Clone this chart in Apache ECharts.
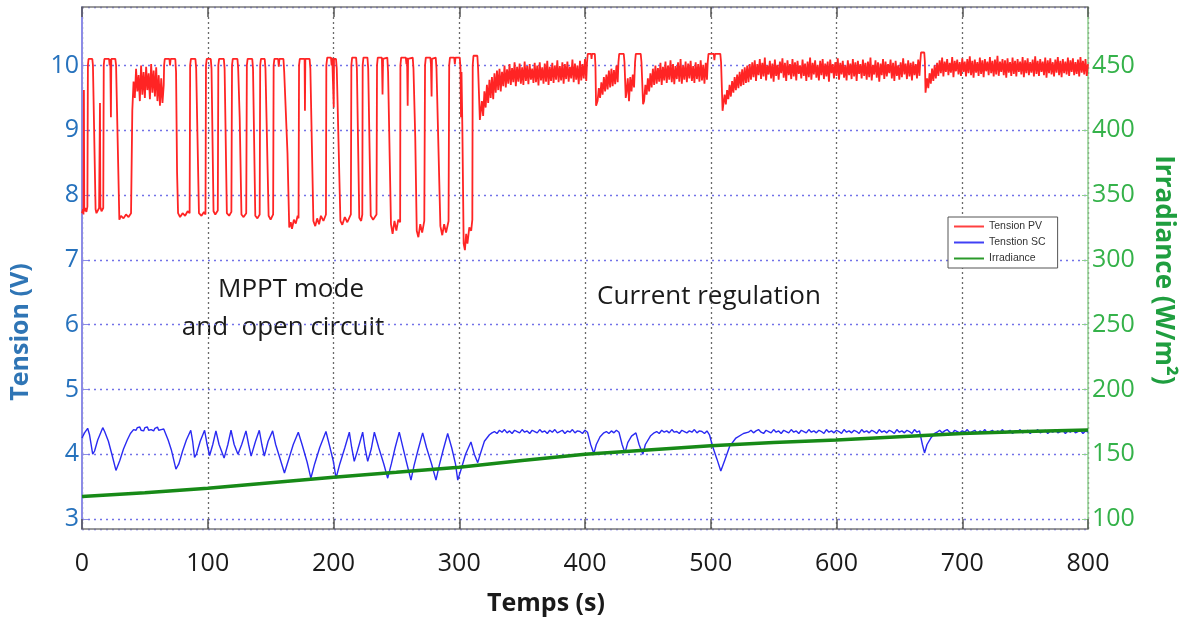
<!DOCTYPE html>
<html><head><meta charset="utf-8">
<script src="https://cdn.jsdelivr.net/npm/echarts@6/dist/echarts.min.js"></script>
<style>html,body{margin:0;padding:0;background:#fff}#c{width:1185px;height:619px}</style>
</head><body><div id="c"></div>
<script>
// ---------- axis ticks ----------
const timeTicks = [0,100,200,300,400,500,600,700,800];
const voltRange = [2.846, 10.902];
const irrRange = [92.3, 495.1];

// ---------- Tension PV (V): switching edges (t, V) ----------
const pvEdges1 = [[0,7.72],[0.8,7.78],[1.2,7.7],[1.5,9.62],[1.8,7.75],[2.5,7.8],[3.5,7.74],[4.3,7.82],
 [4.7,10.0],[5.2,10.1],[8.2,10.1],[8.7,10.0],[10.8,7.78],[11.5,7.72],[13.6,7.8],[14.3,9.42],[14.6,7.82],[15.5,7.75],[16.9,7.8],
 [17.3,10.0],[17.8,10.1],[21.5,10.1],[22.0,10.0],[22.5,10.1],[23.0,9.2],[23.3,10.1],[26.5,10.1],[27.1,10.0],[29.7,7.62],[31,7.68],[33,7.64],[35,7.7],[37,7.66],[39,7.72]];
const pvRun1Start = 40;
const pvRun1 = [9.30,9.75,9.50,9.95,9.60,9.85,9.45,10.0,9.55,9.90,9.50,9.98,9.62,9.88,9.48,10.02,9.58,9.92,9.52,9.97,9.45,9.85,9.38,9.80,9.42,9.70];
const pvEdges2 = [[65.3,10.0],[65.8,10.1],[69.5,10.1],[70,10.0],[70.5,10.1],[74.2,10.1],[74.8,9.9],[75.6,8.35],[76.4,7.72],[78,7.66],[80,7.72],[82,7.68],[84,7.75],[85.6,7.72],
 [86,10.0],[86.6,10.1],[90.2,10.1],[90.8,9.95],[93,7.72],[95,7.68],[97,7.74],[98.2,7.7],
 [98.6,10.0],[99.2,10.1],[102.4,10.1],[103,9.95],[104.6,7.75],[106,7.7],[108,7.76],
 [108.4,10.0],[109,10.1],[112.8,10.1],[113.4,9.95],[115.2,7.72],[117,7.68],[118.8,7.74],
 [119.3,10.0],[119.9,10.1],[123.6,10.1],[124.2,9.95],[125.4,9.2],[126.8,7.7],[128.5,7.66],[130.6,7.72],
 [131.1,10.0],[131.7,10.1],[135.4,10.1],[136,9.95],[137.8,7.68],[139.5,7.64],[141.3,7.7],
 [141.7,10.0],[142.3,10.1],[145.3,10.1],[145.9,9.95],[148.4,7.68],[150,7.62],[152,7.7],
 [152.4,10.0],[153,10.1],[156,10.1],[156.5,9.98],[157,10.1],[160.2,10.1],[160.8,9.9],[163.4,8.65],[164.8,7.5],[166,7.58],[167,7.48],[168.5,7.62],[170,7.56],[171.5,7.68],[172.2,7.64],
 [172.6,10.0],[173.2,10.1],[177,10.1],[177.3,9.3],[177.6,10.1],[181,10.1],[181.6,9.95],[184,7.6],[185.5,7.52],[187,7.64],[188.5,7.55],[190,7.68],[192,7.6],[194,7.7],
 [194.3,10.0],[195,10.12],[198,10.12],[198.5,10.0],[199,10.12],[200,10.12],[200.2,9.35],[200.4,10.1],[202,10.1],[202.6,9.95],[205.5,7.6],[207,7.54],[209,7.66],[211,7.58],[213.8,7.7],
 [214.2,10.0],[214.8,10.12],[218,10.12],[218.6,9.95],[220.5,7.65],[222,7.6],[222.9,7.7],
 [223.2,10.0],[223.8,10.12],[227,10.12],[227.6,9.95],[229.6,7.68],[231.5,7.62],[234.2,7.7],
 [234.6,10.0],[235.2,10.12],[238.5,10.12],[239,9.55],[239.4,10.1],[240,10.12],[242.8,10.12],[243.4,9.9],[245.7,7.55],[247,7.4],[248.5,7.6],[250,7.45],[251.5,7.62],[253,7.58],
 [253.2,10.0],[253.8,10.12],[257.5,10.12],[258,10.02],[258.5,10.12],[259,9.38],[259.3,10.1],[263,10.12],[263.6,9.95],[265,8.9],[266.2,7.45],[267.5,7.35],[269,7.55],[270.5,7.42],[272.2,7.6],
 [272.8,10.0],[273.4,10.12],[277,10.12],[277.5,10.02],[278,9.52],[278.3,10.1],[281.3,10.12],[281.9,9.95],[285,7.52],[286.5,7.38],[288,7.55],[289.5,7.42],[291.5,7.6],
 [292,10.0],[292.6,10.12],[296,10.12],[296.5,10.02],[297,10.12],[300.4,10.12],[301,9.95],[301.4,9.2],[301.8,9.9],[302.5,9.0],[303.5,7.25],[304.5,7.15],[305.5,7.4],[306.5,7.25],[308,7.5],[309.5,7.45],[310.4,7.62],
 [310.7,10.0],[311.3,10.15],[314.4,10.15],[315,9.95],[316.4,9.16]];
const pvRun2Start = 317;
const pvRun2 = [9.16,9.45,9.22,9.60,9.35,9.70,9.42,9.78,9.50,9.82,
 9.48,9.88,9.58,9.92,9.62,9.95,9.60,9.90,9.68,10.0,
 9.66,9.94,9.72,10.02,9.70,9.96,9.74,10.05,9.68,9.98,
 9.75,10.03,9.72,9.97,9.70,10.06,9.76,9.99,9.71,10.02,
 9.78,9.95,9.73,10.04,9.74,10.0,9.69,10.05,9.77,9.97,
 9.72,10.03,9.75,10.07,9.70,9.98,9.76,10.04,9.73,10.0,
 9.78,10.08,9.74,9.99,9.77,10.05,9.72,10.02,9.79,10.06,
 9.75,9.98,9.80,10.09,9.74,10.03,9.78,10.0,9.71,10.07,
 9.77,10.02,9.80,10.1,9.76];
const pvEdges3 = [[401.6,10.05],[402.2,10.18],[404.8,10.18],[405.2,10.1],[405.6,10.18],[407.8,10.18],[408.3,10.0],[408.8,9.38]];
const pvRun3Start = 410;
const pvRun3 = [9.45,9.65,9.50,9.74,9.55,9.82,9.60,9.86,9.63,9.92,9.66,9.95,9.68,9.93,9.71,10.0,9.74];
const pvEdges4 = [[426.6,10.05],[427.2,10.18],[430.8,10.18],[431.4,10.05],[432.4,9.5]];
const pvRun4Start = 433;
const pvRun4 = [9.58,9.80,9.45,9.82,9.60,9.86,9.66];
const pvEdges5 = [[439.8,10.05],[440.4,10.18],[444.3,10.18],[444.9,10.05],[446.2,9.4]];
const pvRun5Start = 447;
const pvRun5 = [9.45,9.70,9.55,9.80,9.60,9.88,9.66,9.95,9.70,10.0,
 9.72,9.96,9.75,10.04,9.70,9.98,9.77,10.06,9.73,10.0,
 9.78,10.08,9.74,10.02,9.71,9.99,9.79,10.05,9.75,10.1,
 9.72,10.0,9.78,10.06,9.74,10.03,9.80,10.07,9.76,9.99,
 9.73,10.05,9.79,10.02,9.75,10.08,9.77,10.01,9.72,10.04,
 9.78];
const pvEdges6 = [[497.6,10.05],[498.2,10.18],[502.4,10.18],[502.9,10.08],[503.4,10.18],[507.6,10.18],[508.2,10.05],[509.4,9.3]];
const pvRun6Start = 510;
const pvRun6 = [9.32,9.55,9.40,9.62,9.48,9.70,9.52,9.76,9.58,9.82,9.62,9.86,9.65,9.90,9.68,9.94,9.70,9.97,9.73,10.0,9.74,10.02,
 9.78,10.05,9.82,10.08,9.76,10.02,9.85,10.1,9.79,10.04,
 9.83,10.12,9.77,10.0,9.86,10.07,9.80,10.03,9.75,10.09,
 9.84,10.01,9.78,10.06,9.88,10.11,9.81,10.04,9.76,10.08,
 9.85,10.02,9.79,10.1,9.83,10.05,9.77,10.07,9.87,10.0,
 9.80,10.09,9.84,10.03,9.76,10.06,9.82,10.12,9.78,10.04,
 9.86,10.08,9.81,10.01,9.77,10.07,9.85,10.1,9.79,10.03,
 9.83,10.06,9.75,10.09,9.88,10.02,9.80,10.05,9.84,10.11,
 9.78,10.04,9.86,10.07,9.81,10.0,9.77,10.08,9.85,10.03,
 9.79,10.1,9.83,10.05,9.76,10.07,9.87,10.02,9.80,10.09,
 9.84,10.04,9.78,10.06,9.82,10.12,9.77,10.01,9.86,10.08,
 9.81,10.05,9.75,10.03,9.85,10.1,9.79,10.06,9.83,10.02,
 9.88,10.09,9.80,10.04,9.76,10.07,9.84,10.0,9.78,10.05,
 9.82,10.11,9.86,10.03,9.79,10.08,9.83,10.04,9.77,10.06,
 9.85,10.02,9.80,10.09,9.84];
const pvEdges7 = [[666.6,10.05],[667.2,10.2],[669.8,10.2],[670.3,10.05],[670.8,9.58]];
const pvRun7Start = 671;
const pvRun7 = [9.58,9.80,9.65,9.88,9.72,9.95,9.76,10.0,9.80,10.04,
 9.84,10.08,9.88,10.12,9.83,10.06,9.90,10.1,9.85,10.04,
 9.89,10.13,9.82,10.07,9.91,10.09,9.86,10.05,9.84,10.11,
 9.90,10.06,9.83,10.1,9.88,10.14,9.85,10.07,9.81,10.09,
 9.89,10.05,9.84,10.12,9.87,10.08,9.82,10.1,9.91,10.06,
 9.85,10.13,9.88,10.07,9.83,10.09,9.86,10.15,9.84,10.06,
 9.90,10.1,9.85,10.08,9.81,10.11,9.89,10.05,9.84,10.12,
 9.87,10.07,9.83,10.1,9.9,10.06,9.86,10.13,9.82,10.08,
 9.88,10.11,9.85,10.05,9.89,10.09,9.83,10.14,9.87,10.07,
 9.84,10.1,9.9,10.06,9.85,10.12,9.81,10.08,9.88,10.11,
 9.86,10.05,9.83,10.09,9.89,10.13,9.85,10.07,9.82,10.1,
 9.88,10.06,9.86,10.12,9.84,10.08,9.9,10.11,9.85,10.05,
 9.87,10.09,9.83,10.13,9.89,10.07,9.86,10.1,9.84,10.02];

// ---------- Tension SC (V) ----------
const scEdges1 = [[0,4.25],[2,4.33],[4.5,4.40],[6,4.3],[8.5,4.0],[10,4.05],[12.5,4.22],[16.5,4.41],[18,4.35],[21,4.2],[24,3.98],[27,3.75],[30,3.9],[33,4.08],[36,4.22],[38.5,4.32],[41,4.38]];
const scRun1Start = 42;
const scRun1 = [4.40,4.37,4.41,4.38,4.42,4.37,4.40,4.36,4.41,4.39,4.42,4.37,4.40,4.38,4.41,4.36,4.40,4.39,4.42,4.37,4.40,4.38,4.41,4.39];
const scEdges2 = [[66.5,4.36],[68.5,4.22],[71,4.07],[74.7,3.77],[77,3.85],[80,4.05],[83,4.22],[86.5,4.37],[88,4.2],[89.5,3.95],[91,4.0],[94,4.2],[97.5,4.37],[99.5,4.15],[101.5,3.98],[104,4.15],[106.5,4.36],[109,4.15],[113,3.94],[116,4.15],[118.5,4.37],[121,4.15],[124,4.0],[127,4.15],[130.4,4.36],[132.5,4.15],[134.5,3.97],[138,4.2],[141,4.37],[143,4.15],[145,3.97],[148,4.2],[151.6,4.36],[154,4.15],[158,3.9],[161,3.71],[164,3.9],[168,4.15],[172,4.34],[175,4.15],[179,3.88],[182,3.63],[185,3.85],[189,4.1],[194,4.35],[197,4.12],[200,3.88],[202,3.63],[205,3.85],[209,4.1],[212.6,4.34],[214.5,4.1],[216.5,3.89],[219,4.05],[223.2,4.34],[225,4.1],[227.2,3.89],[230,4.08],[232.5,4.34],[236,4.1],[240,3.85],[243.1,3.63],[246,3.85],[249,4.1],[252.3,4.34],[255,4.12],[258,3.88],[261.6,3.60],[264,3.82],[267,4.05],[270.9,4.33],[274,4.1],[278,3.85],[281.5,3.60],[284,3.82],[287,4.05],[290.8,4.32],[294,4.1],[297,3.85],[298.8,3.60],[302,3.8],[305,4.0],[309.3,4.19],[312,4.0],[314.7,3.87],[317,4.02],[320,4.2],[324,4.3]];
const scRun2Start = 326;
const scRun2 = [4.33,4.35,4.32,4.37,4.34,4.38,4.33,4.36,4.32,4.37,4.35,4.33,4.38,4.34,4.36,4.32,4.37,4.35,4.33,4.38,4.34,4.36,4.32,4.37,4.34,4.38,4.33,4.35,4.37,4.32,4.36,4.34,4.38,4.33,4.36,4.35,4.32,4.37,4.34];
const scEdges3 = [[404.5,4.15],[407,4.01],[409,4.15],[412,4.27],[415,4.33]];
const scRun3Start = 417;
const scRun3 = [4.35,4.32,4.36,4.33,4.37,4.34];
const scEdges4 = [[429.5,4.15],[431.8,4.02],[434,4.18],[437,4.28],[440.5,4.33],[443,4.15],[446,4.0],[448,4.15],[452,4.28],[455,4.33]];
const scRun4Start = 457;
const scRun4 = [4.35,4.32,4.37,4.34,4.36,4.33,4.38,4.34,4.35,4.32,4.37,4.35,4.33,4.36,4.34,4.38,4.33,4.36,4.35,4.32,4.36];
const scEdges5 = [[499,4.3],[501.5,4.12],[505,3.92],[508,3.74],[511,3.9],[515,4.12],[520,4.25],[526,4.32]];
const scRun5Start = 530;
const scRun5 = [4.34,4.37,4.33,4.36,4.38,4.34,4.32,4.37,4.35,4.33,
 4.38,4.34,4.36,4.32,4.37,4.35,4.33,4.38,4.34,4.36,
 4.32,4.37,4.35,4.33,4.38,4.34,4.36,4.33,4.37,4.35,
 4.32,4.38,4.34,4.36,4.33,4.37,4.35,4.32,4.38,4.34,
 4.36,4.33,4.37,4.35,4.32,4.38,4.34,4.36,4.33,4.37,
 4.35,4.32,4.38,4.34,4.36,4.33,4.37,4.35,4.32,4.38,
 4.34,4.36,4.33,4.37,4.35,4.32,4.38,4.34,4.36];
const scEdges6 = [[668.3,4.15],[670,4.02],[672,4.15],[675,4.25],[678,4.32]];
const scRun6Start = 680;
const scRun6 = [4.34,4.37,4.33,4.36,4.38,4.34,4.32,4.37,4.35,4.33,
 4.36,4.34,4.38,4.33,4.35,4.37,4.32,4.36,4.34,4.38,
 4.33,4.35,4.37,4.32,4.36,4.34,4.38,4.33,4.35,4.37,
 4.32,4.36,4.34,4.38,4.33,4.35,4.37,4.32,4.36,4.34,
 4.38,4.33,4.35,4.37,4.32,4.36,4.34,4.38,4.33,4.35,
 4.37,4.32,4.36,4.34,4.38,4.33,4.35,4.37,4.32,4.36,4.34];

// ---------- Irradiance (W/m2) ----------
const irrPoints = [[0,117.3],[50,120.2],[100,123.7],[150,128],[200,132.2],[250,136],[300,140],[350,145.2],[400,150],[450,153.3],[500,156.6],[550,159],[600,161],[650,163.5],[700,166],[750,167.6],[800,168.7]];

const seriesNames = ['Tension PV','Tenstion SC','Irradiance'];

// ---------- build ----------
function run(start, step, vals){ return vals.map((v,i)=>[start+i*step, v]); }
const pvData = [].concat(pvEdges1, run(pvRun1Start,1,pvRun1), pvEdges2, run(pvRun2Start,1,pvRun2),
  pvEdges3, run(pvRun3Start,1,pvRun3), pvEdges4, run(pvRun4Start,1,pvRun4), pvEdges5, run(pvRun5Start,1,pvRun5),
  pvEdges6, run(pvRun6Start,1,pvRun6), pvEdges7, run(pvRun7Start,1,pvRun7));
const scData = [].concat(scEdges1, run(scRun1Start,1,scRun1), scEdges2, run(scRun2Start,2,scRun2),
  scEdges3, run(scRun3Start,2,scRun3), scEdges4, run(scRun4Start,2,scRun4), scEdges5, run(scRun5Start,2,scRun5),
  scEdges6, run(scRun6Start,2,scRun6));

const FONT = '"Open Sans", "Noto Sans", sans-serif';
const chart = echarts.init(document.getElementById('c'), null, {renderer:'canvas'});
chart.setOption({
  animation: false,
  backgroundColor: '#fff',
  grid: {left: 82, right: 97, top: 7, bottom: 90, containLabel: false},
  xAxis: [{
    type: 'value', min: timeTicks[0], max: timeTicks[timeTicks.length-1], interval: 100, position: 'bottom',
    axisLine: {show: true, onZero: false, lineStyle: {color: '#7a7a7a', width: 1.5}},
    axisTick: {show: true, inside: true, length: 10, lineStyle: {color: '#555', width: 1.5}},
    axisLabel: {color: '#1a1a1a', fontSize: 25, fontFamily: FONT, margin: 22},
    splitLine: {show: true, lineStyle: {color: '#6a6a6a', width: 1.3, type: [2, 3]}}
  }, {
    type: 'value', min: timeTicks[0], max: timeTicks[timeTicks.length-1], interval: 100, position: 'top',
    axisLine: {show: true, onZero: false, lineStyle: {color: '#7a7a7a', width: 1.5}},
    axisTick: {show: true, inside: true, length: 10, lineStyle: {color: '#555', width: 1.5}},
    axisLabel: {show: false}, splitLine: {show: false}
  }],
  yAxis: [{
    type: 'value', min: voltRange[0], max: voltRange[1], splitNumber: 8, position: 'left',
    axisLine: {show: true, onZero: false, lineStyle: {color: '#8c8ce6', width: 2}},
    axisTick: {show: true, inside: true, length: 6, lineStyle: {color: '#8c8ce6'}},
    axisLabel: {color: '#2672bd', fontSize: 25, fontFamily: FONT, margin: 3, showMinLabel: false, showMaxLabel: false,
      formatter: v => (Math.abs(v - Math.round(v)) < 1e-6 ? String(Math.round(v)) : '')},
    splitLine: {show: true, lineStyle: {color: '#7272e8', width: 1.3, type: [2, 4]}}
  }, {
    type: 'value', min: irrRange[0], max: irrRange[1], splitNumber: 8, position: 'right',
    axisLine: {show: true, onZero: false, lineStyle: {color: '#8fd08f', width: 1.5}},
    axisTick: {show: true, inside: true, length: 6, lineStyle: {color: '#8fd08f'}},
    axisLabel: {color: '#35b24a', fontSize: 25, fontFamily: FONT, margin: 4, showMinLabel: false, showMaxLabel: false,
      formatter: v => (Math.abs(v % 50) < 1e-6 ? String(Math.round(v)) : '')},
    splitLine: {show: false}
  }],
  legend: {
    orient: 'vertical', left: 948, top: 217, data: seriesNames.map(n => ({name: n, icon: 'rect'})),
    itemWidth: 30, itemHeight: 2, itemGap: 5, padding: [4, 12, 4, 6],
    backgroundColor: '#fff', borderColor: '#555', borderWidth: 1,
    textStyle: {fontSize: 10.5, color: '#333', fontFamily: '"Liberation Sans", Arial, sans-serif'},
    selectedMode: false
  },
  series: [
    {name: seriesNames[0], type: 'line', xAxisIndex: 0, yAxisIndex: 0, data: pvData, symbol: 'none', showSymbol: false,
      color: '#ff4040', lineStyle: {color: '#ff2424', width: 1.8}, z: 2},
    {name: seriesNames[1], type: 'line', xAxisIndex: 0, yAxisIndex: 0, data: scData, symbol: 'none', showSymbol: false,
      color: '#4040f5', lineStyle: {color: '#2a2af2', width: 1.4}, z: 3},
    {name: seriesNames[2], type: 'line', xAxisIndex: 0, yAxisIndex: 1, data: irrPoints, symbol: 'none', showSymbol: false,
      color: '#2a9a2a', lineStyle: {color: '#178a17', width: 3.5}, z: 4}
  ],
  graphic: [
    {type: 'text', x: 21, y: 332, rotation: Math.PI/2, style: {text: 'Tension (V)', fill: '#2f75b5', font: 'bold 25px ' + FONT, align: 'center', verticalAlign: 'middle'}},
    {type: 'text', x: 1163, y: 270, rotation: -Math.PI/2, style: {text: 'Irradiance (W/m²)', fill: '#1f9e3f', font: 'bold 26px ' + FONT, align: 'center', verticalAlign: 'middle'}},
    {type: 'text', x: 546, y: 604, style: {text: 'Temps (s)', fill: '#1a1a1a', font: 'bold 25px ' + FONT, align: 'center', verticalAlign: 'middle'}},
    {type: 'text', x: 291, y: 290, style: {text: 'MPPT mode', fill: '#1a1a1a', font: '26px ' + FONT, align: 'center', verticalAlign: 'middle'}},
    {type: 'text', x: 283, y: 328, style: {text: 'and  open circuit', fill: '#1a1a1a', font: '26px ' + FONT, align: 'center', verticalAlign: 'middle'}},
    {type: 'text', x: 709, y: 297, style: {text: 'Current regulation', fill: '#1a1a1a', font: '26px ' + FONT, align: 'center', verticalAlign: 'middle'}}
  ]
});
</script>
</body></html>
